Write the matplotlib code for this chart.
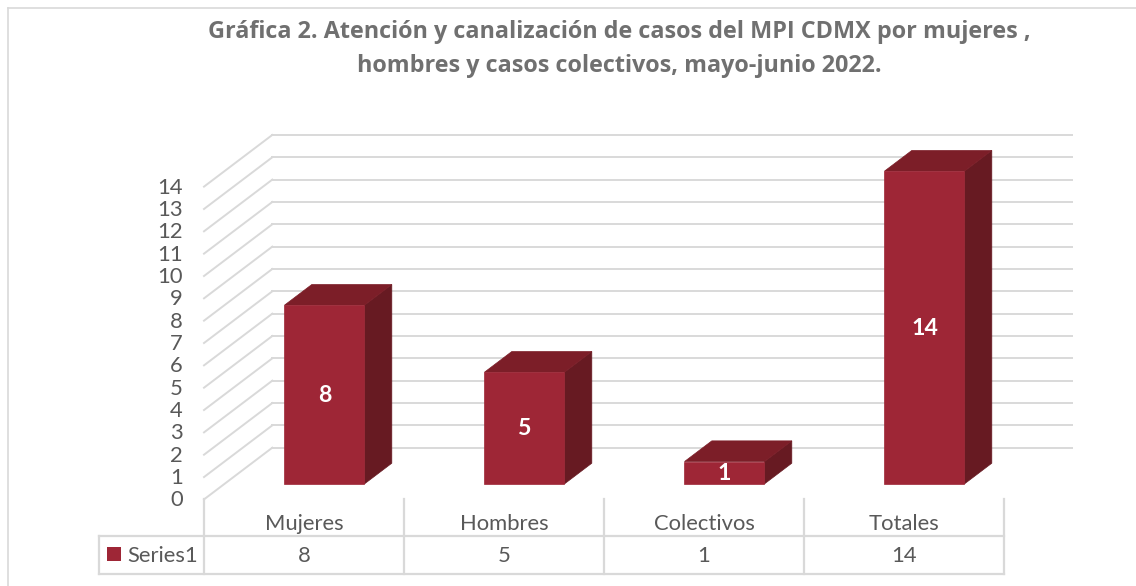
import matplotlib
matplotlib.use("Agg")
import matplotlib.pyplot as plt
from matplotlib.patches import Polygon, Rectangle
from matplotlib.lines import Line2D

# ---------------- data ----------------
categories = ["Mujeres", "Hombres", "Colectivos", "Totales"]
values = [8, 5, 1, 14]
series_name = "Series1"
y_ticks = list(range(0, 15))
title_lines = ["Gráfica 2. Atención y canalización de casos del MPI CDMX por mujeres ,",
               "hombres y casos colectivos, mayo-junio 2022."]

# ---------------- style ----------------
FONT = ["Lato", "DejaVu Sans"]
TFONT = ["Open Sans", "DejaVu Sans"]
C_FRONT = "#9E2636"
C_TOP = "#7C1E28"
C_SIDE = "#671A22"
C_GRID = "#D9D9D9"
C_TEXT = "#595959"
C_TITLE = "#707070"

W, H = 1136, 586
fig = plt.figure(figsize=(W / 100, H / 100), dpi=100)
fig.patch.set_facecolor("white")
renderer = fig.canvas.get_renderer()

# pixel layout of the front plane (category units of 200 px, value units of 22.34 px)
X0PX, UNITX = 204.0, 200.0
Y0PX, UNITY = 499.4, 22.34


def dx(px):
    return (px - X0PX) / UNITX


def dy(py):
    return (Y0PX - py) / UNITY


ax = fig.add_axes([0, 0, 1, 1])
ax.set_xlim(dx(0), dx(W))
ax.set_ylim(dy(H), dy(0))
ax.axis("off")

# depth projection (back wall offset)
DX = 68.3 / UNITX
DY = 51.7 / UNITY
n = len(categories)


def fit(text, width_px, **kw):
    t = fig.text(0, 0, text, fontsize=10, **kw)
    w = t.get_window_extent(renderer).width
    t.remove()
    return 10 * width_px / w


# ---------------- walls / gridlines ----------------
for v in y_ticks:
    ax.add_line(Line2D([DX, n + DX], [v + DY, v + DY], color=C_GRID, lw=1.4, zorder=1))
    ax.add_line(Line2D([0, DX], [v, v + DY], color=C_GRID, lw=1.4, zorder=1))

# ---------------- bars ----------------
bw = 0.4
d0, d1 = 0.30, 0.70
fs_lab = fit("Mujeres", 79, family=FONT)
for i, v in enumerate(values):
    xl = i + 0.5 - bw / 2
    xr = i + 0.5 + bw / 2
    front = [(xl + d0 * DX, d0 * DY), (xr + d0 * DX, d0 * DY),
             (xr + d0 * DX, v + d0 * DY), (xl + d0 * DX, v + d0 * DY)]
    top = [(xl + d0 * DX, v + d0 * DY), (xr + d0 * DX, v + d0 * DY),
           (xr + d1 * DX, v + d1 * DY), (xl + d1 * DX, v + d1 * DY)]
    side = [(xr + d0 * DX, d0 * DY), (xr + d1 * DX, d1 * DY),
            (xr + d1 * DX, v + d1 * DY), (xr + d0 * DX, v + d0 * DY)]
    ax.add_patch(Polygon(side, closed=True, fc=C_SIDE, ec=C_SIDE, lw=0.5, zorder=3))
    ax.add_patch(Polygon(top, closed=True, fc=C_TOP, ec=C_TOP, lw=0.5, zorder=3))
    ax.add_patch(Polygon(front, closed=True, fc=C_FRONT, ec=C_FRONT, lw=0.5, zorder=4))
    ax.text(i + 0.5 + d0 * DX, v / 2 + d0 * DY - 7.3 / UNITY, str(v), color="white",
            fontsize=fs_lab * 1.05, fontweight="bold", family=FONT,
            ha="center", va="baseline", zorder=5)

# ---------------- y tick labels ----------------
for v in y_ticks:
    ax.text(dx(183), v - 7.0 / UNITY, str(v), color=C_TEXT, fontsize=fs_lab,
            family=FONT, ha="right", va="baseline", zorder=5)

# ---------------- data table ----------------
tl = dx(99)
y_mid = dy(536)
y_bot = dy(574.3)
ax.add_line(Line2D([tl, n], [y_mid, y_mid], color=C_GRID, lw=1.6, zorder=2))
ax.add_line(Line2D([tl, n], [y_bot, y_bot], color=C_GRID, lw=1.6, zorder=2))
ax.add_line(Line2D([tl, tl], [y_mid, y_bot], color=C_GRID, lw=1.6, zorder=2))
for k in range(n + 1):
    ax.add_line(Line2D([k, k], [0, y_bot], color=C_GRID, lw=1.6, zorder=2))

for i, (c, v) in enumerate(zip(categories, values)):
    ax.text(i + 0.5, dy(530), c, color=C_TEXT, fontsize=fs_lab, family=FONT,
            ha="center", va="baseline")
    ax.text(i + 0.5, dy(562.3), str(v), color=C_TEXT, fontsize=fs_lab, family=FONT,
            ha="center", va="baseline")

ax.add_patch(Rectangle((dx(106.7), dy(561)), 14.3 / UNITX, 14.3 / UNITY,
                       fc=C_FRONT, ec="none", zorder=3))
ax.text(dx(127), dy(562.3), series_name, color=C_TEXT, fontsize=fs_lab, family=FONT,
        ha="left", va="baseline")

# ---------------- title ----------------
fs_title = fit(title_lines[0], 825, family=TFONT, fontweight="bold")
fig.text(619.5 / W, 1 - 38.3 / H, title_lines[0], color=C_TITLE, fontsize=fs_title,
         fontweight="bold", family=TFONT, ha="center", va="baseline")
fig.text(619.5 / W, 1 - 71.7 / H, title_lines[1], color=C_TITLE, fontsize=fs_title,
         fontweight="bold", family=TFONT, ha="center", va="baseline")

# ---------------- chart border ----------------
fig.add_artist(Line2D([8.3 / W, 1], [1 - 8.3 / H, 1 - 8.3 / H], color=C_GRID, lw=1.2,
                      transform=fig.transFigure))
fig.add_artist(Line2D([8.3 / W, 8.3 / W], [0, 1 - 8.3 / H], color=C_GRID, lw=1.2,
                      transform=fig.transFigure))

fig.savefig("out.png", dpi=100, facecolor="white")
